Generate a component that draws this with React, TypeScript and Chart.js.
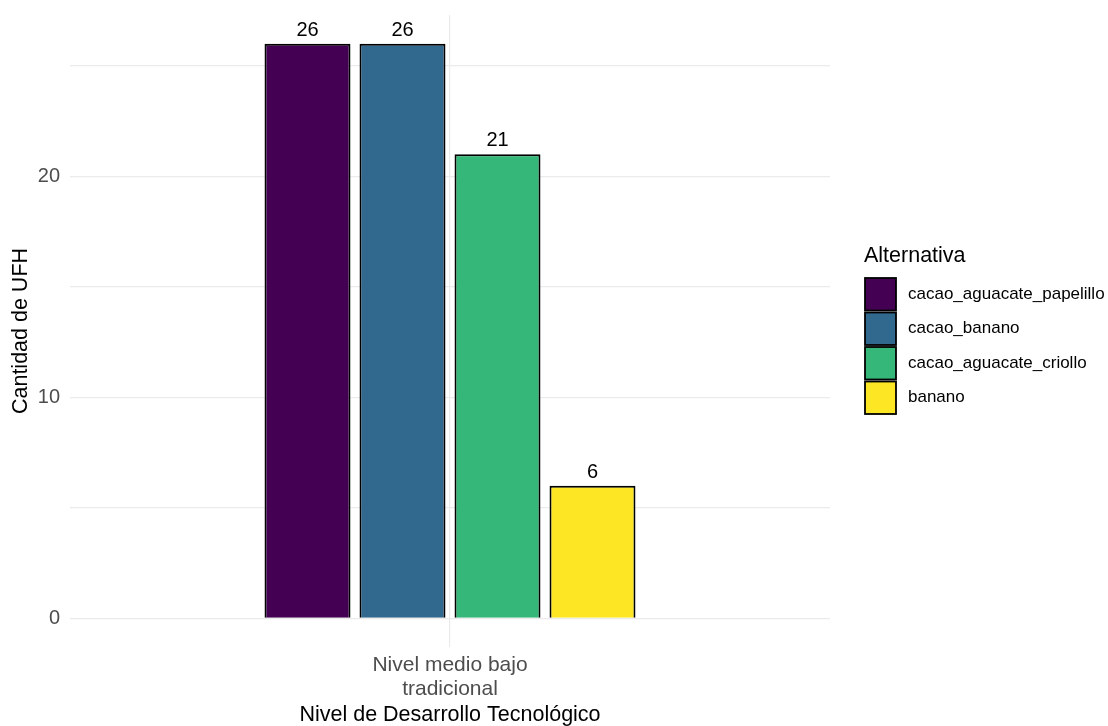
import React, { useEffect, useRef } from "react";
import { Chart, registerables } from "chart.js";

Chart.register(...registerables);

const categories: string[][] = [["Nivel medio bajo", "tradicional"]];
const seriesNames = ["cacao_aguacate_papelillo", "cacao_banano", "cacao_aguacate_criollo", "banano"];
const seriesValues = [[26], [26], [21], [6]];
const seriesColors = ["#440154", "#31688E", "#35B779", "#FDE725"];
const yTicks = [0, 5, 10, 15, 20, 25];
const yTickLabels = ["0", "", "10", "", "20", ""];
const legendTitle = "Alternativa";
const xTitle = "Nivel de Desarrollo Tecnológico";
const yTitle = "Cantidad de UFH";

const FONT = "'Liberation Sans', Arial, sans-serif";

const labelPlugin = {
  id: "barLabels",
  afterDatasetsDraw(chart: any) {
    const ctx = chart.ctx;
    ctx.save();
    ctx.font = `20px ${FONT}`;
    ctx.fillStyle = "#000000";
    ctx.textAlign = "center";
    ctx.textBaseline = "alphabetic";
    chart.data.datasets.forEach((ds: any, i: number) => {
      const meta = chart.getDatasetMeta(i);
      meta.data.forEach((bar: any, j: number) => {
        ctx.fillText(String(ds.data[j]), bar.x, bar.y - 8);
      });
    });
    ctx.restore();
  },
};

const legendPlugin = {
  id: "customLegend",
  afterDraw(chart: any) {
    const ctx = chart.ctx;
    ctx.save();
    const x0 = 864;
    ctx.fillStyle = "#000000";
    ctx.font = `21.5px ${FONT}`;
    ctx.textAlign = "left";
    ctx.textBaseline = "middle";
    ctx.fillText(legendTitle, x0, 256);
    const top = 277;
    const h = 34.5;
    chart.data.datasets.forEach((ds: any, i: number) => {
      const y = top + i * h;
      ctx.fillStyle = ds.backgroundColor;
      ctx.fillRect(x0 + 1, y + 1, 31, h - 2);
      ctx.strokeStyle = "#000000";
      ctx.lineWidth = 1.8;
      ctx.strokeRect(x0 + 1, y + 1, 31, h - 2);
      ctx.fillStyle = "#000000";
      ctx.font = `17px ${FONT}`;
      ctx.fillText(ds.label, 908, y + h / 2);
    });
    ctx.restore();
  },
};

export default function App() {
  const ref = useRef<HTMLCanvasElement | null>(null);
  useEffect(() => {
    if (!ref.current) return;
    const chart = new Chart(ref.current, {
      type: "bar",
      data: {
        labels: categories as any,
        datasets: seriesNames.map((n, i) => ({
          label: n,
          data: seriesValues[i],
          backgroundColor: seriesColors[i],
          borderColor: "#000000",
          borderWidth: 2,
          categoryPercentage: 0.5,
          barPercentage: 0.905,
        })),
      },
      options: {
        animation: false,
        responsive: false,
        maintainAspectRatio: false,
        layout: { padding: { left: 0, right: 278, top: 15, bottom: 0 } },
        plugins: { legend: { display: false }, tooltip: { enabled: false } },
        scales: {
          x: {
            grid: { offset: false, color: "#EBEBEB", lineWidth: 1.2, drawTicks: false },
            border: { display: false },
            ticks: { color: "#4D4D4D", font: { family: FONT, size: 21, lineHeight: 1.143 }, padding: 6 },
            title: { display: true, text: xTitle, color: "#000000", font: { family: FONT, size: 21.5, lineHeight: 1.0 }, padding: { top: 0, bottom: 0 } },
            afterFit: (s: any) => { s.height = 79; s.paddingLeft = 0; s.paddingRight = 0; },
          },
          y: {
            min: -1.3,
            max: 27.3,
            grid: { color: "#EBEBEB", lineWidth: 1.2, drawTicks: false },
            border: { display: false },
            afterBuildTicks: (s: any) => { s.ticks = yTicks.map((v) => ({ value: v })); },
            ticks: {
              color: "#4D4D4D",
              font: { family: FONT, size: 20 },
              padding: 10,
              callback: (v: any) => { const k = yTicks.indexOf(Number(v)); return k >= 0 ? yTickLabels[k] : ""; },
            },
            title: { display: true, text: yTitle, color: "#000000", font: { family: FONT, size: 21.5 }, padding: { top: 8, bottom: 0 } },
            afterFit: (s: any) => { s.width = 70; s.paddingTop = 0; s.paddingBottom = 0; },
          },
        },
      },
      plugins: [labelPlugin, legendPlugin],
    });
    return () => chart.destroy();
  }, []);
  return (
    <div style={{ position: "absolute", left: 0, top: 0, width: 1108, height: 726, background: "#fff" }}>
      <canvas ref={ref} width={1108} height={726} style={{ width: 1108, height: 726, display: "block" }} />
    </div>
  );
}
